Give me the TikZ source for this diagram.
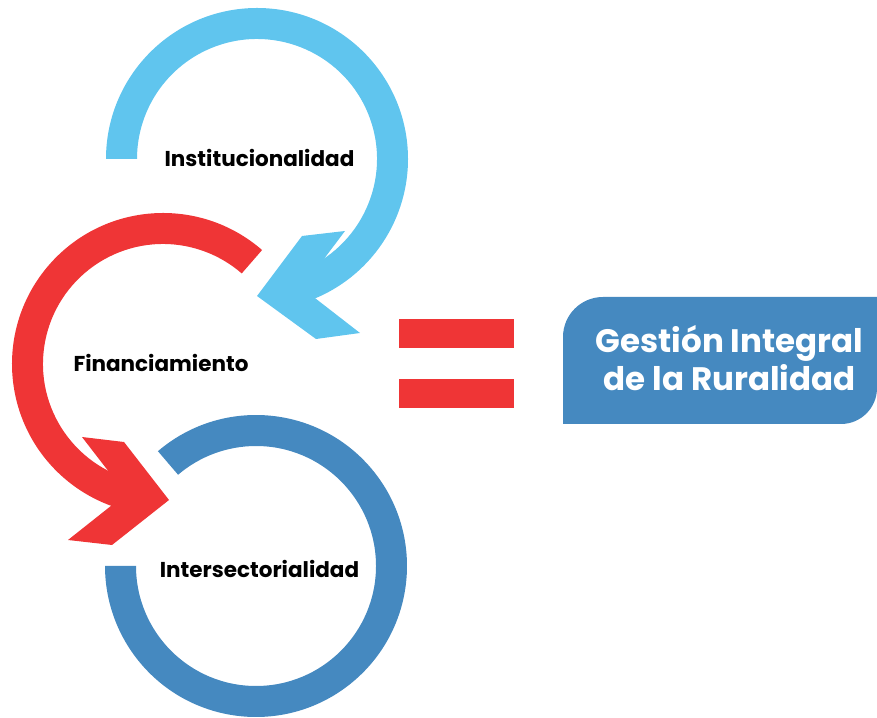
\documentclass[tikz,border=0pt]{standalone}
\usepackage{fontspec}
\setmainfont{Poppins}
\usetikzlibrary{calc}
\definecolor{lblue}{HTML}{60C5EE}
\definecolor{dblue}{HTML}{4589C0}
\definecolor{cred}{HTML}{EF3536}
\tikzset{
  lbl/.style={font=\fontsize{21.5}{24}\selectfont\bfseries, text=black, inner sep=0pt},
  boxtxt/.style={font=\fontsize{32.5}{37.5}\selectfont\bfseries, text=white, align=center, inner sep=0pt}
}
\begin{document}
\begin{tikzpicture}[x=1pt,y=1pt]
\useasboundingbox (0,0) rectangle (877,717);
\clip (0,0) rectangle (877,717);
% light blue ring with arrow
\fill[lblue] (257,558) ++(180:151) arc[start angle=180,end angle=-72,radius=151]
  -- ($(257,558)+(-72:120)$) arc[start angle=-72,end angle=180,radius=120] -- cycle;
\fill[lblue] (257,421) -- (302,481) -- (345,486) -- (302,429) -- (360,384) -- (316,378) -- cycle;
% red ring with arrow
\fill[cred] (163,353) ++(49:151) arc[start angle=49,end angle=260,radius=151]
  -- ($(163,353)+(260:120)$) arc[start angle=260,end angle=49,radius=120] -- cycle;
\fill[cred] (169,217) -- (124,275) -- (82,280) -- (126,223) -- (68,177) -- (112,172) -- cycle;
% dark blue ring
\fill[dblue] (256,151) ++(130.5:151) arc[start angle=130.5,end angle=-180,radius=151]
  -- ($(256,151)+(-180:120)$) arc[start angle=-180,end angle=130.5,radius=120] -- cycle;
% labels
\node[lbl] (inst) at (259.5,559) {Institucionalidad};
\node[lbl] (fin) at (161,354) {Financiamiento};
\node[lbl] (inter) at (259.5,148) {Intersectorialidad};
% equals sign
\fill[cred] (399,369) rectangle (514,398);
\fill[cred] (399,309) rectangle (514,338);
% result box
\fill[dblue] (563,293) -- (563,380) arc[start angle=180,end angle=90,radius=40]
  -- (877,420) -- (877,329) arc[start angle=0,end angle=-90,radius=36] -- cycle;
\node[boxtxt] (res) at (729.5,359) {Gestión Integral\\de la Ruralidad};
\end{tikzpicture}
\end{document}
